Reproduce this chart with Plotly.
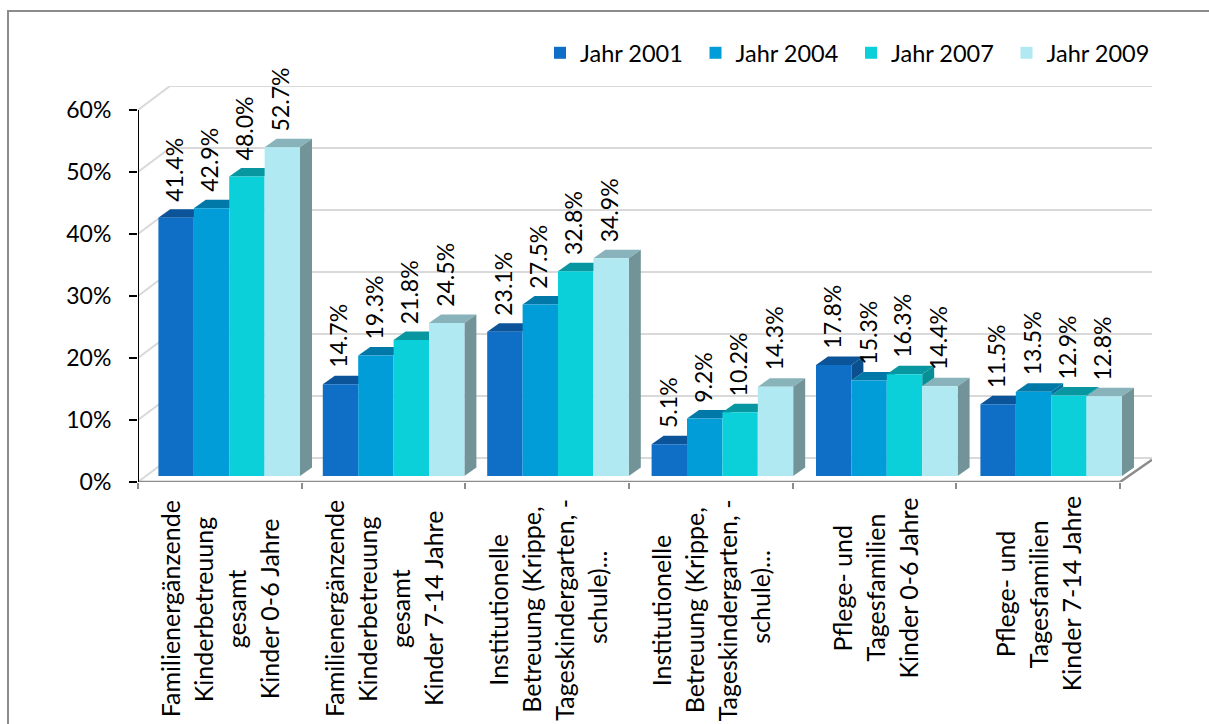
import plotly.graph_objects as go

series = ["Jahr 2001", "Jahr 2004", "Jahr 2007", "Jahr 2009"]
v2001 = [41.4, 14.7, 23.1, 5.1, 17.8, 11.5]
v2004 = [42.9, 19.3, 27.5, 9.2, 15.3, 13.5]
v2007 = [48.0, 21.8, 32.8, 10.2, 16.3, 12.9]
v2009 = [52.7, 24.5, 34.9, 14.3, 14.4, 12.8]
categories = [
    ["Familienergänzende", "Kinderbetreuung", "gesamt", "Kinder 0-6 Jahre"],
    ["Familienergänzende", "Kinderbetreuung", "gesamt", "Kinder 7-14 Jahre"],
    ["Institutionelle", "Betreuung (Krippe,", "Tageskindergarten, -", "\u00a0\u00a0\u00a0\u00a0schule)..."],
    ["Institutionelle", "Betreuung (Krippe,", "Tageskindergarten, -", "\u00a0\u00a0\u00a0\u00a0schule)..."],
    ["Pflege- und", "Tagesfamilien", "Kinder 0-6 Jahre"],
    ["Pflege- und", "Tagesfamilien", "Kinder 7-14 Jahre"],
]
y_ticks = [0, 10, 20, 30, 40, 50, 60]
front = ["#0F6FC6", "#009DD9", "#0BD0D9", "#B1E9F2"]
top = ["#0B5499", "#0079A8", "#0897A0", "#88B3BA"]
side = ["#0A4F8E", "#00729E", "#088F96", "#729499"]

values = [v2001, v2004, v2007, v2009]
FONT = "Lato"
PX_X = 163.67      # pixels per category
PX_Y = 6.2         # pixels per percent
L, R, T, B = 138, 1152, 86, 482
x_end = (R - L) / PX_X
y_end = (B - T) / PX_Y
wall_dx, wall_dy = 32 / PX_X, 24 / PX_Y
depth_dx, depth_dy = 12 / PX_X, 8.5 / PX_Y
base = 6 / PX_Y
bar_w = 35.4 / PX_X
group0, group_step = 20.4 / PX_X, 164.4 / PX_X
hscale = 6.24 / PX_Y


def bar_left(c, s):
    return group0 + c * group_step + s * bar_w


def bar_top(v):
    return base + v * hscale


fig = go.Figure()

# back wall grid and floor
gx, gy = [], []
for t in y_ticks:
    gx += [0, wall_dx, x_end, None]
    gy += [t, t + wall_dy, t + wall_dy, None]
fig.add_trace(go.Scatter(x=gx, y=gy, mode="lines", line=dict(color="#D9D9D9", width=2),
                         showlegend=False, hoverinfo="skip", cliponaxis=False))
fig.add_trace(go.Scatter(x=[0, 6, 6 + wall_dx], y=[0, 0, 3.6], mode="lines",
                         line=dict(color="#8C8C8C", width=2.5), showlegend=False,
                         hoverinfo="skip", cliponaxis=False))
fig.add_trace(go.Scatter(x=[0, 0], y=[0, 60], mode="lines", line=dict(color="#000000", width=2),
                         showlegend=False, hoverinfo="skip", cliponaxis=False))

# top and side faces
for s, vals in enumerate(values):
    for c, v in enumerate(vals):
        xl, xr = bar_left(c, s), bar_left(c, s + 1)
        h = bar_top(v)
        fig.add_trace(go.Scatter(
            x=[xl, xr, xr + depth_dx, xl + depth_dx, xl],
            y=[h, h, h + depth_dy, h + depth_dy, h],
            mode="none", fill="toself", fillcolor=top[s],
            showlegend=False, hoverinfo="skip", cliponaxis=False))
for s, vals in enumerate(values):
    for c, v in enumerate(vals):
        xr = bar_left(c, s + 1)
        h = bar_top(v)
        h2 = bar_top(values[s + 1][c]) if s < 3 else base
        if h2 < h:
            fig.add_trace(go.Scatter(
                x=[xr, xr + depth_dx, xr + depth_dx, xr, xr],
                y=[h2, h2 + depth_dy, h + depth_dy, h, h2],
                mode="none", fill="toself", fillcolor=side[s],
                showlegend=False, hoverinfo="skip", cliponaxis=False))

# front faces on an overlay so they sit above the side and top faces
for s, vals in enumerate(values):
    fig.add_trace(go.Bar(
        name=series[s], x=[bar_left(c, s) + bar_w / 2 for c in range(6)],
        y=[v * hscale for v in vals], base=base, width=bar_w,
        marker=dict(color=front[s], line=dict(width=0)),
        xaxis="x2", yaxis="y2", hoverinfo="skip", cliponaxis=False))

ann = []
for s, vals in enumerate(values):
    for c, v in enumerate(vals):
        ann.append(dict(x=bar_left(c, s) + bar_w / 2, y=bar_top(v), xref="x", yref="y",
                        text=f"{v:.1f}%", textangle=-90, showarrow=False,
                        xanchor="center", yanchor="bottom", yshift=14, xshift=-2,
                        font=dict(family=FONT, size=23, color="#000000")))
group_mid = [609, 609, 610, 610, 588, 594]
for c, lines in enumerate(categories):
    n = len(lines)
    for i, line in enumerate(lines):
        ann.append(dict(x=c + 0.5, y=(B - group_mid[c]) / (B - T), xref="x", yref="paper",
                        xshift=(i - (n - 1) / 2) * 33, text=line, textangle=-90,
                        showarrow=False, xanchor="center", yanchor="middle",
                        font=dict(family=FONT, size=25, color="#000000")))

frame = dict(type="path", xref="paper", yref="paper",
             path=f"M {(8 - L) / (R - L)} {-(724 - B) / (B - T)} L {(8 - L) / (R - L)} {(B - 11) / (B - T)} "
                  f"L {(1209 - L) / (R - L)} {(B - 11) / (B - T)}",
             line=dict(color="#8C8C8C", width=2))

fig.update_layout(
    width=1209, height=724,
    margin=dict(l=L, r=1209 - R, t=T, b=724 - B, pad=0, autoexpand=False),
    paper_bgcolor="#FFFFFF", plot_bgcolor="#FFFFFF", barmode="overlay",
    font=dict(family=FONT, color="#000000"),
    xaxis=dict(range=[0, x_end], tickvals=list(range(7)), showticklabels=False, ticks="outside",
               ticklen=6, tickwidth=2, tickcolor="#8C8C8C", showgrid=False, zeroline=False, showline=False),
    yaxis=dict(range=[0, y_end], tickvals=y_ticks, ticktext=[f"{t}%" for t in y_ticks], ticks="outside",
               ticklen=8, tickwidth=2, tickcolor="#000000", showgrid=False, zeroline=False, showline=False,
               ticklabelstandoff=13, tickfont=dict(family=FONT, size=23, color="#000000")),
    xaxis2=dict(range=[0, x_end], overlaying="x", visible=False),
    yaxis2=dict(range=[0, y_end], overlaying="y", visible=False),
    legend=dict(orientation="h", x=(540 - L) / (R - L), y=(B - 53) / (B - T), xanchor="left", yanchor="middle",
                font=dict(family=FONT, size=23.5, color="#000000"), entrywidth=110.5, entrywidthmode="pixels",
                bgcolor="rgba(0,0,0,0)", itemclick=False),
    annotations=ann, shapes=[frame], showlegend=True,
)
swatch = ("document.body.style.margin='0';"
          "document.querySelectorAll('.legend path.legendbar').forEach("
          "function(p){p.setAttribute('d','M27.5,7.5H12.5V-7.5H27.5Z');});")
fig.write_html("out.html", post_script=swatch, config=dict(displayModeBar=False))
